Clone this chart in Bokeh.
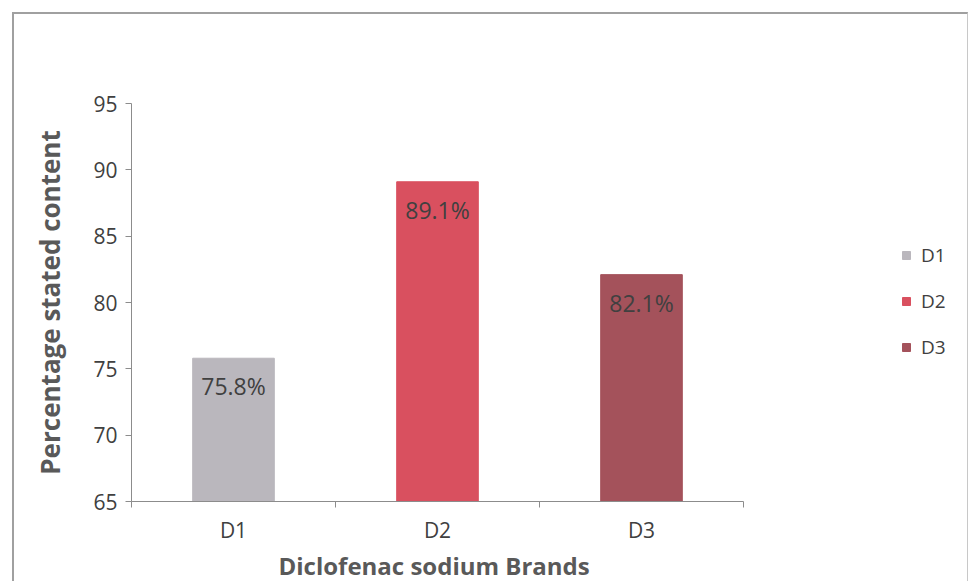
from bokeh.plotting import figure
from bokeh.models import ColumnDataSource, Range1d, FixedTicker, LabelSet, Title
from bokeh.core.properties import value
from bokeh.embed import file_html
from bokeh.resources import INLINE

# Data
brands = ["D1", "D2", "D3"]
content = [75.8, 89.1, 82.1]
bar_colors = ["#bab7bd", "#d9505f", "#a4525b"]
y_ticks = [65, 70, 75, 80, 85, 90, 95]

FONT = "Open Sans"
OFF = 12                          # page margin round the chart box
BORDER = 2                        # chart box border width
ORIGIN = OFF + BORDER             # where the canvas starts on the page
W, H = 971 - ORIGIN - 1, 583 - ORIGIN
B_LEFT, B_RIGHT = 131 - ORIGIN, 2
B_TOP, B_BOTTOM = 103 - ORIGIN, H - (501 - ORIGIN)
SLOT_PX = 204                     # screen width of one category slot

# one category per x unit; the frame runs on past the last slot to hold the legend
frame_w = W - B_LEFT - B_RIGHT
x_end = frame_w / SLOT_PX
centers = [i + 0.5 for i in range(len(brands))]
edges = [float(i) for i in range(len(brands) + 1)]
labels = [f"{v:.1f}%" for v in content]

src = ColumnDataSource(dict(x=centers, top=content, brand=brands,
                            color=bar_colors, label=labels))

p = figure(width=W, height=H, output_backend="svg", toolbar_location=None,
           x_range=Range1d(0, x_end), y_range=Range1d(y_ticks[0], y_ticks[-1]),
           min_border_left=B_LEFT, min_border_right=B_RIGHT,
           min_border_top=B_TOP, min_border_bottom=B_BOTTOM)
p.margin = (OFF, 0, 0, OFF)
p.styles = {"border-top": f"{BORDER}px solid #a0a0a0",
            "border-left": f"{BORDER}px solid #a0a0a0",
            "border-right": "1px solid #c8c8c8"}
p.outline_line_color = None
p.grid.visible = False
p.background_fill_color = "white"
p.border_fill_color = "white"

p.vbar(x="x", top="top", bottom=y_ticks[0], width=0.4, color="color",
       source=src, legend_field="brand")

p.add_layout(LabelSet(x="x", y="top", text="label", source=src, y_offset=-28,
                      text_align="center", text_baseline="middle",
                      text_font=value(FONT), text_font_size="23px",
                      text_color="#404040"))

axis_color = "#8c8c8c"
tick_color = "#404040"
title_color = "#595959"

# x axis: names at slot centres, tick marks at slot edges
xa = p.xaxis[0]
xa.ticker = FixedTicker(ticks=centers, minor_ticks=edges)
xa.major_label_overrides = {c: b for c, b in zip(centers, brands)}
xa.bounds = (edges[0], edges[-1])
xa.axis_line_color = axis_color
xa.major_tick_line_color = None
xa.minor_tick_line_color = axis_color
xa.minor_tick_in = 0
xa.minor_tick_out = 6
xa.major_tick_in = 0
xa.major_tick_out = 6
xa.major_label_standoff = 8
xa.major_label_text_font = FONT
xa.major_label_text_font_size = "21px"
xa.major_label_text_color = tick_color

ya = p.yaxis[0]
ya.ticker = FixedTicker(ticks=y_ticks)
ya.axis_line_color = axis_color
ya.major_tick_line_color = axis_color
ya.major_tick_in = 0
ya.major_tick_out = 6
ya.minor_tick_line_color = None
ya.major_label_standoff = 8
ya.major_label_text_font = FONT
ya.major_label_text_font_size = "21px"
ya.major_label_text_color = tick_color
ya.axis_label = "Percentage stated content"
ya.axis_label_text_font = FONT
ya.axis_label_text_font_style = "bold"
ya.axis_label_text_font_size = "26px"
ya.axis_label_text_color = title_color
ya.axis_label_standoff = 22

# x axis title, centred under the three category slots
X_TITLE_W = 318                   # rendered width of the title text
slots_mid = SLOT_PX * len(brands) / 2
p.add_layout(Title(text="Diclofenac sodium Brands", align="left",
                   offset=slots_mid - X_TITLE_W / 2, standoff=0,
                   text_font=FONT, text_font_style="bold", text_font_size="24px",
                   text_color=title_color), "below")

lg = p.legend[0]
lg.location = (770, 141)
lg.orientation = "vertical"
lg.background_fill_alpha = 0
lg.border_line_color = None
lg.padding = 0
lg.margin = 0
lg.spacing = 20
lg.glyph_width = 10
lg.glyph_height = 10
lg.label_height = 20
lg.label_standoff = 10
lg.label_text_font = FONT
lg.label_text_font_size = "19px"
lg.label_text_color = "#404040"

open("out.html", "w").write(file_html(p, INLINE))
